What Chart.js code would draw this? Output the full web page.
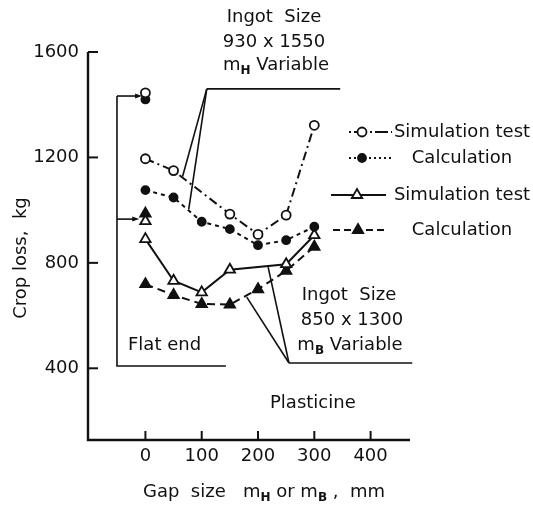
<!DOCTYPE html>
<html><head><meta charset="utf-8">
<script src="https://cdn.jsdelivr.net/npm/chart.js@4.4.1/dist/chart.umd.min.js"></script>
<style>html,body{margin:0;padding:0;background:#fff;}#wrap{width:533px;height:510px;}</style>
</head><body><div id="wrap"><canvas id="c" width="533" height="510"></canvas></div>
<script>
// ---- data ----
const xTicks = [0, 100, 200, 300, 400];
const yTicks = [400, 800, 1200, 1600];
// Ingot 930 x 1550, mH variable
const simLargeX = [0, 50, 150, 200, 250, 300];
const simLarge  = [1195, 1150, 985, 908, 981, 1322];
const calcLargeX = [0, 50, 100, 150, 200, 250, 300];
const calcLarge  = [1076, 1048, 956, 928, 867, 886, 937];
// Ingot 850 x 1300, mB variable
const simSmallX = [0, 50, 100, 150, 250, 300];
const simSmall  = [890, 732, 688, 774, 795, 905];
const calcSmallX = [0, 50, 100, 150, 200, 250, 300];
const calcSmall  = [719, 678, 644, 642, 700, 770, 861];
// Flat end (gap 0)
const flatX = [0];
const flatSimLarge = [1445];
const flatCalcLarge = [1420];
const flatSimSmall = [958];
const flatCalcSmall = [987];

const legendLabels = ['Simulation test', 'Calculation', 'Simulation test', 'Calculation'];

const FONT = "'DejaVu Sans', sans-serif";
const INK = '#111';
const FS = 18;

function pts(xs, ys) { return xs.map((x, i) => ({ x: x, y: ys[i] })); }

const styles = {
  simLarge:  { borderDash: [9, 4, 2, 4], pointStyle: 'circle',   pointRadius: 4.5, bg: '#fff' },
  calcLarge: { borderDash: [4, 4],       pointStyle: 'circle',   pointRadius: 4,   bg: INK },
  simSmall:  { borderDash: [],           pointStyle: 'triangle', pointRadius: 6,   bg: '#fff' },
  calcSmall: { borderDash: [8, 5],       pointStyle: 'triangle', pointRadius: 6,   bg: INK }
};

function ds(label, xs, ys, st, showLine) {
  return {
    label: label, data: pts(xs, ys), showLine: showLine,
    borderColor: INK, borderWidth: 2, borderDash: st.borderDash,
    pointStyle: st.pointStyle, pointRadius: st.pointRadius, pointBorderWidth: 1.8,
    pointBackgroundColor: st.bg, pointBorderColor: INK, tension: 0
  };
}

// annotation geometry in data units
const notes = {
  upperBracket: { corner: [109, 1460], end: [346, 1460], legs: [[66, 1128], [77, 1004]] },
  lowerBracket: { corner: [255, 420], end: [474, 420], legs: [[180, 670], [218, 784]] },
  flatBracket:  { x: -50.5, top: 1433, bottom: 409, bottomEnd: 143, arrows: [[1433, -6], [966, -11]] }
};

function subText(ctx, parts, cx, cy) {
  let w = 0;
  parts.forEach(p => { ctx.font = (p[1] ? 'bold 12px ' : FS + 'px ') + FONT; w += ctx.measureText(p[0]).width; });
  let x = cx - w / 2;
  ctx.textAlign = 'left'; ctx.textBaseline = 'middle';
  parts.forEach(p => {
    ctx.font = (p[1] ? 'bold 12px ' : FS + 'px ') + FONT;
    ctx.fillText(p[0], x, cy + (p[1] ? 6 : 0));
    x += ctx.measureText(p[0]).width;
  });
}

const overlay = {
  id: 'overlay',
  afterDraw(chart) {
    const { ctx, chartArea: a, scales: { x, y } } = chart;
    const X = v => x.getPixelForValue(v), Y = v => y.getPixelForValue(v);
    ctx.save();
    ctx.strokeStyle = INK; ctx.fillStyle = INK;
    // axes
    ctx.lineWidth = 2.4;
    ctx.beginPath();
    ctx.moveTo(a.left, a.top); ctx.lineTo(a.left, a.bottom); ctx.lineTo(a.right, a.bottom);
    ctx.stroke();
    ctx.lineWidth = 2;
    yTicks.forEach(v => { ctx.beginPath(); ctx.moveTo(a.left, Y(v)); ctx.lineTo(a.left + 10, Y(v)); ctx.stroke(); });
    xTicks.forEach(v => { ctx.beginPath(); ctx.moveTo(X(v), a.bottom); ctx.lineTo(X(v), a.bottom - 9); ctx.stroke(); });

    // brackets
    ctx.lineWidth = 1.6;
    [notes.upperBracket, notes.lowerBracket].forEach(b => {
      ctx.beginPath();
      ctx.moveTo(X(b.end[0]), Y(b.end[1])); ctx.lineTo(X(b.corner[0]), Y(b.corner[1]));
      ctx.stroke();
      b.legs.forEach(l => {
        ctx.beginPath(); ctx.moveTo(X(b.corner[0]), Y(b.corner[1])); ctx.lineTo(X(l[0]), Y(l[1])); ctx.stroke();
      });
    });
    const f = notes.flatBracket;
    ctx.beginPath();
    ctx.moveTo(X(f.x), Y(f.top)); ctx.lineTo(X(f.x), Y(f.bottom)); ctx.lineTo(X(f.bottomEnd), Y(f.bottom));
    ctx.stroke();
    f.arrows.forEach(ar => {
      const py = Y(ar[0]), px = X(ar[1]);
      ctx.beginPath(); ctx.moveTo(X(f.x), py); ctx.lineTo(px - 4, py); ctx.stroke();
      ctx.beginPath(); ctx.moveTo(px, py); ctx.lineTo(px - 7, py - 2.5); ctx.lineTo(px - 7, py + 2.5); ctx.closePath(); ctx.fill();
    });

    // texts
    ctx.fillStyle = INK;
    ctx.font = FS + 'px ' + FONT; ctx.textAlign = 'center'; ctx.textBaseline = 'middle';
    ctx.fillText('Ingot  Size', 274, 17);
    ctx.fillText('930 x 1550', 274, 42);
    subText(ctx, [['m', false], ['H', true], [' Variable', false]], 276, 65);
    ctx.font = FS + 'px ' + FONT; ctx.textAlign = 'center';
    ctx.fillText('Ingot  Size', 349, 295);
    ctx.fillText('850 x 1300', 352, 320);
    subText(ctx, [['m', false], ['B', true], [' Variable', false]], 350, 345);
    ctx.font = FS + 'px ' + FONT; ctx.textAlign = 'left';
    ctx.fillText('Flat end', 128, 345);
    ctx.fillText('Plasticine', 270, 403);

    // axis titles
    subText(ctx, [['Gap  size   m', false], ['H', true], [' or m', false], ['B', true], [' ,  mm', false]], 264, 492);
    ctx.save();
    ctx.translate(21, 258); ctx.rotate(-Math.PI / 2);
    ctx.font = FS + 'px ' + FONT; ctx.textAlign = 'center'; ctx.textBaseline = 'middle';
    ctx.fillText('Crop loss,  kg', 0, 0);
    ctx.restore();

    // legend
    const rows = [
      { y: 132, x1: 349, x2: 392, mx: 362, st: styles.simLarge, dash: [2, 3, 13, 3] },
      { y: 158, x1: 349, x2: 392, mx: 362, st: styles.calcLarge, dash: [2, 3] },
      { y: 195, x1: 331, x2: 386, mx: 357, st: styles.simSmall, dash: [] },
      { y: 230, x1: 333, x2: 386, mx: 358, st: styles.calcSmall, dash: [7, 4] }
    ];
    rows.forEach((r, i) => {
      ctx.lineWidth = 1.8; ctx.setLineDash(r.dash);
      ctx.beginPath(); ctx.moveTo(r.x1, r.y); ctx.lineTo(r.x2, r.y); ctx.stroke();
      ctx.setLineDash([]);
      ctx.fillStyle = r.st.bg; ctx.strokeStyle = INK; ctx.lineWidth = 1.8;
      Chart.helpers.drawPoint(ctx, { pointStyle: r.st.pointStyle, radius: r.st.pointRadius, borderWidth: 1.8, rotation: 0 }, r.mx, r.y);
      ctx.fillStyle = INK;
      ctx.font = FS + 'px ' + FONT; ctx.textAlign = 'center'; ctx.textBaseline = 'middle';
      ctx.fillText(legendLabels[i], 462, r.y);
    });
    ctx.restore();
  }
};

new Chart(document.getElementById('c'), {
  type: 'scatter',
  data: {
    datasets: [
      ds('Simulation test (930 x 1550)', simLargeX, simLarge, styles.simLarge, true),
      ds('Calculation (930 x 1550)', calcLargeX, calcLarge, styles.calcLarge, true),
      ds('Simulation test (850 x 1300)', simSmallX, simSmall, styles.simSmall, true),
      ds('Calculation (850 x 1300)', calcSmallX, calcSmall, styles.calcSmall, true),
      ds('Flat end sim (930 x 1550)', flatX, flatSimLarge, styles.simLarge, false),
      ds('Flat end calc (930 x 1550)', flatX, flatCalcLarge, styles.calcLarge, false),
      ds('Flat end sim (850 x 1300)', flatX, flatSimSmall, styles.simSmall, false),
      ds('Flat end calc (850 x 1300)', flatX, flatCalcSmall, styles.calcSmall, false)
    ]
  },
  options: {
    responsive: false, animation: false, devicePixelRatio: 1,
    layout: { padding: { top: 52, right: 123, left: 0, bottom: 0 } },
    plugins: { legend: { display: false }, tooltip: { enabled: false } },
    scales: {
      x: {
        type: 'linear', min: -102, max: 470,
        afterBuildTicks: s => { s.ticks = xTicks.map(v => ({ value: v })); },
        afterFit: s => { s.height = 70; },
        grid: { display: false, drawTicks: false },
        border: { display: false },
        ticks: { padding: 6, color: INK, font: { family: FONT, size: FS }, callback: v => String(v) }
      },
      y: {
        type: 'linear', min: 128, max: 1600,
        afterBuildTicks: s => { s.ticks = yTicks.map(v => ({ value: v })); },
        afterFit: s => { s.width = 88; },
        grid: { display: false, drawTicks: false },
        border: { display: false },
        ticks: { padding: 9, color: INK, font: { family: FONT, size: FS }, callback: v => String(v) }
      }
    }
  },
  plugins: [overlay]
});
</script>
</body></html>
